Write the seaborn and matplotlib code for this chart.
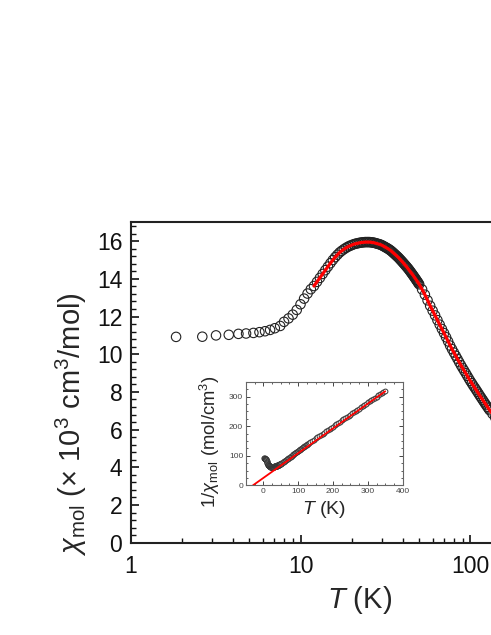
import numpy as np
import pandas as pd
import matplotlib
matplotlib.use("Agg")
import matplotlib.pyplot as plt
import matplotlib.ticker as mticker
import seaborn as sns

# ---- data ----
temp_low = [1.85, 2.64, 3.18, 3.78, 4.31, 4.78, 5.28, 5.73, 6.18, 6.62, 7.06, 7.59,
            8.0, 8.5, 9.0, 9.5, 10.0, 10.5, 11.0, 11.5]
chi_low = [10.92, 10.93, 11.00, 11.03, 11.08, 11.10, 11.13, 11.17, 11.22, 11.29, 11.38, 11.50,
           11.72, 11.90, 12.10, 12.35, 12.65, 12.95, 13.22, 13.45]

temp_mid = [12.0, 12.5, 13.0, 13.5, 14.0, 14.5, 15.0, 15.5, 16.0, 16.5, 17.0, 17.5, 18.0, 18.5,
            19.0, 19.5, 20.0, 20.5, 21.0, 21.5, 22.0, 22.5, 23.0, 23.5, 24.0, 24.5, 25.0, 25.5,
            26.0, 26.5, 27.0, 27.5, 28.0, 28.5, 29.0, 29.5, 30.0, 30.5, 31.0, 31.5, 32.0, 32.5,
            33.0, 33.5, 34.0, 34.5, 35.0, 35.5, 36.0, 36.5, 37.0, 37.5, 38.0, 38.5, 39.0, 39.5,
            40.0, 40.5, 41.0, 41.5, 42.0, 42.5, 43.0, 43.5, 44.0, 44.5, 45.0, 45.5, 46.0, 46.5,
            47.0, 47.5, 48.0, 48.5, 49.0, 49.5, 50.0]
chi_mid = [13.62, 13.84, 14.05, 14.26, 14.46, 14.65, 14.83, 15.00, 15.15, 15.28, 15.40, 15.49, 15.57, 15.64,
           15.70, 15.75, 15.79, 15.83, 15.86, 15.88, 15.90, 15.92, 15.93, 15.94, 15.95, 15.95, 15.95, 15.95,
           15.94, 15.93, 15.92, 15.90, 15.88, 15.86, 15.84, 15.82, 15.79, 15.76, 15.72, 15.69, 15.65, 15.62,
           15.58, 15.54, 15.50, 15.45, 15.40, 15.35, 15.30, 15.25, 15.20, 15.15, 15.10, 15.04, 14.99, 14.93,
           14.88, 14.82, 14.77, 14.71, 14.66, 14.60, 14.55, 14.49, 14.43, 14.37, 14.31, 14.25, 14.19, 14.13,
           14.07, 14.01, 13.95, 13.89, 13.83, 13.77, 13.71]

temp_high = [52, 54, 56, 58, 60, 62, 64, 66, 68, 70, 72, 74, 76, 78, 80, 82, 84, 86, 88, 90,
             92, 94, 96, 98, 100, 102, 104, 106, 108, 110, 112, 114, 116, 118, 120, 122, 124, 126,
             128, 130, 135, 140, 145, 150, 155, 160, 165, 170, 175, 180, 185, 190, 195, 200, 205,
             210, 215, 220, 225, 230, 235, 240, 245, 250, 255, 260, 265, 270, 275, 280, 285, 290,
             295, 300, 305, 310, 315, 320, 325, 330, 335, 340, 345, 350]
chi_high = [13.44, 13.16, 12.86, 12.57, 12.31, 12.06, 11.81, 11.57, 11.34, 11.12, 10.90, 10.68, 10.46, 10.27,
            10.09, 9.92, 9.75, 9.58, 9.42, 9.27, 9.13, 8.99, 8.85, 8.71, 8.58, 8.46, 8.34, 8.23, 8.12,
            8.01, 7.90, 7.79, 7.69, 7.59, 7.49, 7.39, 7.30, 7.21, 7.12, 7.03, 6.84, 6.65, 6.48, 6.31,
            6.16, 6.01, 5.87, 5.73, 5.60, 5.47, 5.36, 5.24, 5.13, 5.03, 4.93, 4.83, 4.74, 4.65, 4.56,
            4.48, 4.40, 4.32, 4.25, 4.18, 4.11, 4.04, 3.98, 3.91, 3.85, 3.79, 3.74, 3.68, 3.63, 3.57,
            3.52, 3.47, 3.42, 3.38, 3.33, 3.29, 3.24, 3.20, 3.16, 3.12]

fit_start_T = 11.6               # fit curve shown from here upward
inset_fit_T = [-30, 350]          # Curie-Weiss line in the inset
inset_fit_inv = [0, 318]

x_ticks = [1, 10, 100]
x_tick_labels = ["1", "10", "100"]
y_ticks = [0, 2, 4, 6, 8, 10, 12, 14, 16]
inset_x_ticks = [0, 100, 200, 300, 400]
inset_y_ticks = [0, 100, 200, 300]

df = pd.DataFrame({"T": temp_low + temp_mid + temp_high,
                   "chi": chi_low + chi_mid + chi_high})
df["inv_chi"] = 1000.0 / df["chi"]
fit_df = df[df["T"] >= fit_start_T]
inset_fit_df = pd.DataFrame({"T": inset_fit_T, "inv": inset_fit_inv})

# ---- style ----
sns.set_theme(style="ticks")
plt.rcParams["font.family"] = ["Liberation Sans", "DejaVu Sans"]
plt.rcParams["mathtext.fontset"] = "custom"
plt.rcParams["mathtext.rm"] = "Liberation Sans"
plt.rcParams["mathtext.it"] = "Liberation Sans:italic"
plt.rcParams["mathtext.bf"] = "Liberation Sans:bold"

fig = plt.figure(figsize=(4.91, 6.35), dpi=100)
ax = fig.add_axes([0.2662, 0.1454, 0.9334, 0.5045])

sns.scatterplot(data=df, x="T", y="chi", ax=ax, marker="o", s=46,
                facecolor="none", edgecolor="#222222", linewidth=0.8, zorder=2, legend=False)
sns.lineplot(data=fit_df, x="T", y="chi", ax=ax, color="#ff0000", lw=2.3,
             estimator=None, sort=True, zorder=3, legend=False)

ax.set_xscale("log")
ax.set_xlim(1, 500)
ax.set_ylim(0, 17)
ax.xaxis.set_major_locator(mticker.FixedLocator(x_ticks))
ax.xaxis.set_major_formatter(mticker.FixedFormatter(x_tick_labels))
ax.xaxis.set_minor_locator(mticker.LogLocator(base=10, subs=np.arange(2, 10)))
ax.xaxis.set_minor_formatter(mticker.NullFormatter())
ax.set_yticks(y_ticks)
ax.yaxis.set_minor_locator(mticker.MultipleLocator(0.4))
ax.tick_params(which="major", direction="in", length=6, width=1.2, labelsize=16.5,
               colors="#111111", pad=6)
ax.tick_params(axis="x", which="major", pad=9)
ax.tick_params(which="minor", direction="in", length=3.5, width=1.0, colors="#111111")
ax.tick_params(axis="y", which="both", right=False)
ax.tick_params(axis="x", which="both", top=False)
for sp in ax.spines.values():
    sp.set_linewidth(1.5)
    sp.set_color("#222222")
ax.set_xlabel(r"$T$ (K)", fontsize=21, labelpad=4)
ax.set_ylabel(r"$\chi_{\mathrm{mol}}$ ($\times$ 10$^3$ cm$^3$/mol)", fontsize=21)
ax.yaxis.set_label_coords(-0.092, 0.37)

# ---- inset ----
axin = fig.add_axes([0.501, 0.2357, 0.319, 0.163])
sns.scatterplot(data=df, x="T", y="inv_chi", ax=axin, marker="o", s=12,
                facecolor="white", edgecolor="#333333", linewidth=0.7, zorder=2, legend=False)
sns.lineplot(data=inset_fit_df, x="T", y="inv", ax=axin, color="#ff0000", lw=1.3,
             estimator=None, zorder=3, legend=False)
axin.set_xlim(-50, 400)
axin.set_ylim(0, 350)
axin.set_xticks(inset_x_ticks)
axin.set_yticks(inset_y_ticks)
axin.xaxis.set_minor_locator(mticker.MultipleLocator(25))
axin.yaxis.set_minor_locator(mticker.MultipleLocator(25))
axin.tick_params(which="major", direction="in", length=3, width=0.7, labelsize=6,
                 colors="#444444", pad=2)
axin.tick_params(which="minor", direction="in", length=1.5, width=0.6, colors="#444444")
axin.tick_params(axis="both", which="both", top=True, right=True)
for sp in axin.spines.values():
    sp.set_linewidth(0.8)
    sp.set_color("#666666")
axin.set_xlabel(r"$T$ (K)", fontsize=14, labelpad=3)
axin.set_ylabel(r"$1/\chi_{\mathrm{mol}}$ (mol/cm$^3$)", fontsize=13.3, labelpad=4)
axin.yaxis.set_label_coords(-0.15, 0.42)

fig.savefig("out.png", dpi=100)
